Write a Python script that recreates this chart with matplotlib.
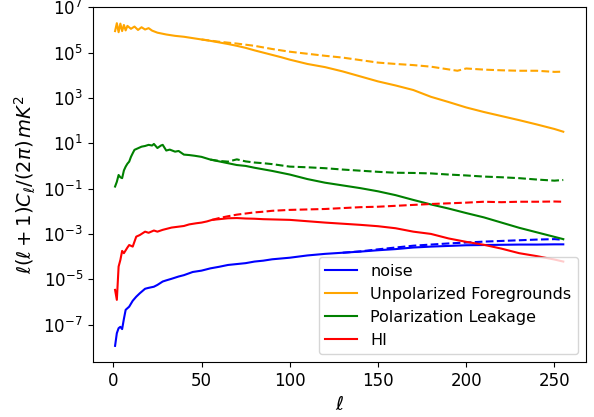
import numpy as np
import matplotlib
matplotlib.use("Agg")
import matplotlib.pyplot as plt

# values, stored as log10 of l(l+1)C_l/(2pi)
noise_ell = [1, 2, 3, 4, 5, 6, 7, 9, 11, 13, 15, 18, 20, 23, 25, 28, 30, 33, 37, 40, 45, 50,
             55, 60, 65, 70, 75, 80, 85, 90, 100, 110, 120, 130, 140, 150, 160, 170, 180,
             190, 200, 210, 220, 230, 240, 250, 255]
noise_log = [-7.94, -7.38, -7.16, -7.1, -7.2, -6.75, -6.35, -6.21, -5.95, -5.77, -5.62, -5.42,
             -5.38, -5.33, -5.25, -5.1, -5.05, -4.98, -4.88, -4.82, -4.68, -4.62, -4.52, -4.45,
             -4.37, -4.33, -4.29, -4.22, -4.18, -4.12, -4.05, -3.95, -3.88, -3.83, -3.78, -3.72,
             -3.67, -3.6, -3.56, -3.53, -3.5, -3.49, -3.48, -3.47, -3.47, -3.46, -3.46]
noise_d_ell = [130, 140, 150, 160, 170, 180, 190, 200, 210, 220, 230, 240, 250, 255]
noise_d_log = [-3.83, -3.77, -3.68, -3.6, -3.52, -3.47, -3.42, -3.38, -3.34, -3.31, -3.28,
               -3.25, -3.23, -3.26]

fg_ell = [1, 2, 3, 4, 5, 6, 7, 8, 10, 12, 14, 16, 18, 20, 22, 25, 30, 35, 40, 45, 50, 55, 60,
          65, 70, 75, 80, 85, 90, 95, 100, 110, 120, 130, 140, 150, 160, 170, 180, 190, 200,
          210, 220, 230, 240, 250, 255]
fg_log = [5.95, 6.3, 5.9, 6.28, 5.95, 6.22, 5.98, 6.18, 6.05, 6.15, 6.0, 6.12, 6.02, 6.08, 5.97,
          5.88, 5.8, 5.74, 5.7, 5.64, 5.58, 5.52, 5.45, 5.38, 5.3, 5.21, 5.1, 5.0, 4.9, 4.8,
          4.69, 4.5, 4.36, 4.17, 3.95, 3.73, 3.55, 3.35, 3.05, 2.82, 2.58, 2.38, 2.2, 2.02,
          1.83, 1.63, 1.51]
fg_d_ell = [50, 60, 70, 80, 90, 100, 110, 120, 130, 140, 150, 160, 170, 180, 190, 195,
            200, 210, 220, 230, 240, 250, 255]
fg_d_log = [5.58, 5.48, 5.4, 5.3, 5.16, 5.04, 4.95, 4.86, 4.78, 4.67, 4.56, 4.5, 4.45,
            4.38, 4.26, 4.2, 4.3, 4.25, 4.22, 4.2, 4.2, 4.15, 4.16]

pol_ell = [1, 2, 3, 4, 5, 6, 7, 8, 9, 10, 11, 12, 14, 16, 18, 20, 22, 23, 25, 27, 28, 30, 32,
           35, 37, 40, 43, 46, 50, 55, 60, 65, 70, 75, 80, 85, 90, 100, 110, 120, 130, 140,
           150, 160, 170, 180, 190, 200, 210, 220, 230, 240, 250, 255]
pol_log = [-0.91, -0.7, -0.4, -0.5, -0.54, -0.2, -0.03, 0.1, 0.19, 0.4, 0.56, 0.71, 0.78, 0.85,
           0.88, 0.93, 0.9, 0.97, 0.79, 0.9, 0.93, 0.68, 0.72, 0.63, 0.66, 0.5, 0.48, 0.45,
           0.4, 0.28, 0.2, 0.12, 0.04, 0.0, -0.08, -0.15, -0.22, -0.38, -0.58, -0.74, -0.86,
           -0.98, -1.12, -1.29, -1.5, -1.7, -1.88, -2.08, -2.27, -2.5, -2.73, -2.93, -3.13,
           -3.23]
pol_d_ell = [55, 60, 65, 70, 75, 80, 85, 90, 100, 110, 120, 130, 140, 150, 160, 170, 180, 190,
             200, 210, 220, 230, 240, 250, 255]
pol_d_log = [0.28, 0.22, 0.19, 0.29, 0.2, 0.15, 0.12, 0.08, -0.03, -0.06, -0.1, -0.16, -0.21,
             -0.26, -0.3, -0.31, -0.33, -0.38, -0.42, -0.47, -0.5, -0.54, -0.6, -0.65, -0.62]

hi_ell = [1, 2, 3, 4, 5, 6, 8, 9, 11, 13, 15, 18, 20, 23, 25, 28, 30, 33, 37, 40, 43, 47, 50,
          53, 56, 60, 65, 70, 75, 80, 85, 90, 100, 110, 120, 130, 140, 150, 160, 170, 180,
          190, 200, 210, 220, 230, 240, 250, 255]
hi_log = [-5.47, -5.91, -4.44, -4.15, -3.75, -3.85, -3.6, -3.49, -3.56, -3.12, -3.05, -2.9,
          -2.95, -2.85, -2.9, -2.82, -2.78, -2.72, -2.68, -2.65, -2.58, -2.53, -2.5, -2.45,
          -2.38, -2.35, -2.31, -2.3, -2.32, -2.33, -2.35, -2.36, -2.38, -2.44, -2.5, -2.55,
          -2.6, -2.66, -2.75, -2.9, -3.0, -3.2, -3.35, -3.48, -3.65, -3.85, -3.98, -4.13,
          -4.22]
hi_d_ell = [56, 60, 65, 70, 75, 80, 85, 90, 100, 110, 120, 130, 140, 150, 160, 170, 180, 190,
            200, 210, 220, 230, 240, 250, 255]
hi_d_log = [-2.38, -2.3, -2.22, -2.15, -2.1, -2.05, -2.02, -1.98, -1.94, -1.92, -1.9, -1.86,
            -1.82, -1.8, -1.76, -1.72, -1.68, -1.65, -1.62, -1.58, -1.6, -1.58, -1.58, -1.57,
            -1.58]

series = [
    ("noise", "blue", noise_ell, noise_log, noise_d_ell, noise_d_log),
    ("Unpolarized Foregrounds", "orange", fg_ell, fg_log, fg_d_ell, fg_d_log),
    ("Polarization Leakage", "green", pol_ell, pol_log, pol_d_ell, pol_d_log),
    ("HI", "red", hi_ell, hi_log, hi_d_ell, hi_d_log),
]

fig = plt.figure(figsize=(5.94, 4.17), dpi=100)
ax = fig.add_axes([0.156, 0.132, 0.83, 0.8505])

for label, color, ell, lg, d_ell, d_lg in series:
    ax.plot(ell, 10 ** np.array(lg), color=color, label=label)
    ax.plot(d_ell, 10 ** np.array(d_lg), color=color, linestyle="--")

ax.set_yscale("log")
ax.set_ylim(10 ** -8.65, 10 ** 7.0)
ax.set_xlim(-11.7, 267.7)
ax.set_xticks([0, 50, 100, 150, 200, 250])
ax.set_yticks([1e-7, 1e-5, 1e-3, 1e-1, 1e1, 1e3, 1e5, 1e7])
ax.tick_params(labelsize=12)
ax.minorticks_off()
ax.set_xlabel(r"$\ell$", fontsize=14)
ax.set_ylabel(r"$\ell(\ell+1)C_\ell/(2\pi)\, mK^2$", fontsize=14)
ax.legend(loc="lower right", fontsize=11.5)

fig.savefig("out.png", dpi=100)
